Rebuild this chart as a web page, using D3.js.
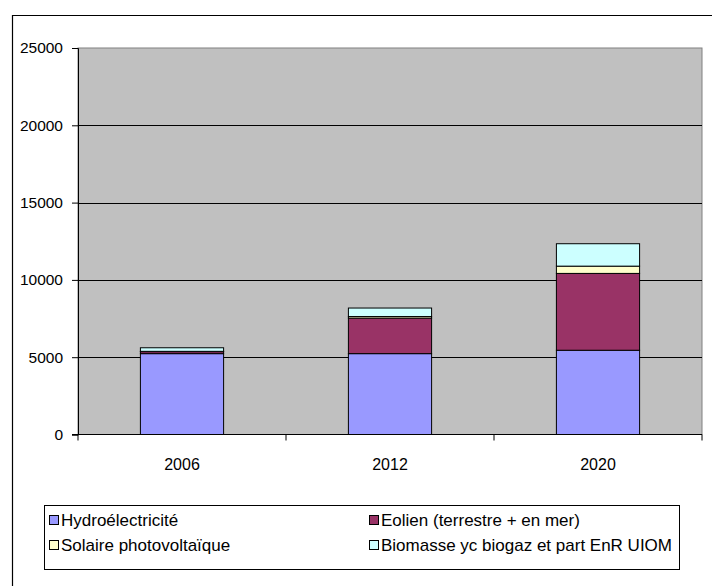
<!DOCTYPE html>
<html>
<head>
<meta charset="utf-8">
<script src="https://cdn.jsdelivr.net/npm/d3@7"></script>
<style>
  html, body { margin: 0; padding: 0; background: #fff; }
  svg { display: block; font-family: "Liberation Sans", Arial, sans-serif; }
</style>
</head>
<body>
<svg id="chart" width="712" height="586"></svg>
<script>
// Installed renewable electricity capacity by year (stacked)
const years = ["2006", "2012", "2020"];
const hydro   = [5230, 5230, 5450];
const eolien  = [130, 2300, 4970];
const solaire = [20, 100, 470];
const biomass = [230, 550, 1450];
const seriesNames = [
  "Hydroélectricité",
  "Eolien (terrestre + en mer)",
  "Solaire photovoltaïque",
  "Biomasse yc biogaz et part EnR UIOM"
];
const seriesColors = ["#9999FF", "#993366", "#FFFFCC", "#CCFFFF"];
const yTicks = [0, 5000, 10000, 15000, 20000, 25000];

const keys = ["hydro", "eolien", "solaire", "biomass"];
const rows = years.map((y, i) => ({
  year: y, hydro: hydro[i], eolien: eolien[i], solaire: solaire[i], biomass: biomass[i]
}));

const svg = d3.select("#chart");

// outer chart frame (left and top edges)
svg.append("path")
  .attr("d", "M12.5,586 V15.5 H712")
  .attr("fill", "none").attr("stroke", "#000").attr("stroke-width", 1.2);

const plot = { left: 78, right: 702, top: 48, bottom: 434.5 };

const x = d3.scaleBand().domain(years).range([plot.left, plot.right]).paddingInner(0).paddingOuter(0);
const y = d3.scaleLinear().domain([0, 25000]).range([plot.bottom, plot.top]);

// plot background
svg.append("rect")
  .attr("x", plot.left).attr("y", plot.top)
  .attr("width", plot.right - plot.left).attr("height", plot.bottom - plot.top)
  .attr("fill", "#C0C0C0").attr("stroke", "#808080").attr("stroke-width", 1);

// horizontal gridlines
svg.append("g").selectAll("line")
  .data(yTicks.filter(t => t > 0 && t < 25000))
  .join("line")
  .attr("x1", plot.left).attr("x2", plot.right)
  .attr("y1", d => Math.round(y(d)) + 0.5).attr("y2", d => Math.round(y(d)) + 0.5)
  .attr("stroke", "#000").attr("stroke-width", 1);

// stacked bars
const stack = d3.stack().keys(keys)(rows);
const barW = x.bandwidth() * 0.4;
svg.append("g").selectAll("g")
  .data(stack)
  .join("g")
  .attr("fill", (d, i) => seriesColors[i])
  .selectAll("rect")
  .data(d => d)
  .join("rect")
  .attr("x", d => x(d.data.year) + (x.bandwidth() - barW) / 2)
  .attr("width", barW)
  .attr("y", d => y(d[1]))
  .attr("height", d => y(d[0]) - y(d[1]))
  .attr("stroke", "#000").attr("stroke-width", 1);

// y axis
const yAxis = svg.append("g")
  .attr("transform", `translate(${plot.left},0)`)
  .call(d3.axisLeft(y).tickValues(yTicks).tickSize(6).tickPadding(9).tickFormat(d3.format("d")));
yAxis.select(".domain").attr("stroke", "#000");
yAxis.selectAll(".tick line").attr("stroke", "#000");
yAxis.selectAll("text").attr("font-size", 15.5).attr("fill", "#000")
  .attr("font-family", "Liberation Sans, Arial, sans-serif");

// x axis with ticks between categories
const xAxisG = svg.append("g").attr("transform", `translate(0,${plot.bottom})`);
xAxisG.append("line")
  .attr("x1", plot.left - 6).attr("x2", plot.right)
  .attr("y1", 0).attr("y2", 0).attr("stroke", "#000");
const boundaries = years.map(d => x(d)).concat([x(years[years.length - 1]) + x.bandwidth()]);
xAxisG.selectAll(".bt")
  .data(boundaries)
  .join("line")
  .attr("x1", d => d).attr("x2", d => d)
  .attr("y1", 0).attr("y2", 6).attr("stroke", "#000");
xAxisG.selectAll("text.cat")
  .data(years)
  .join("text")
  .attr("class", "cat")
  .attr("x", d => x(d) + x.bandwidth() / 2)
  .attr("y", 35)
  .attr("text-anchor", "middle")
  .attr("font-size", 16)
  .text(d => d);

// legend
const legend = svg.append("g");
legend.append("rect")
  .attr("x", 44.5).attr("y", 505.5).attr("width", 635).attr("height", 64)
  .attr("fill", "#fff").attr("stroke", "#000").attr("stroke-width", 1);
const legPos = [
  { x: 49, y: 520 }, { x: 369, y: 520 },
  { x: 49, y: 545 }, { x: 369, y: 545 }
];
seriesNames.forEach((name, i) => {
  const p = legPos[i];
  legend.append("rect")
    .attr("x", p.x + 0.5).attr("y", p.y - 4.5).attr("width", 9).attr("height", 9)
    .attr("fill", seriesColors[i]).attr("stroke", "#000");
  legend.append("text")
    .attr("x", p.x + 12).attr("y", p.y)
    .attr("dy", "0.35em")
    .attr("font-size", 17)
    .text(name);
});
</script>
</body>
</html>
